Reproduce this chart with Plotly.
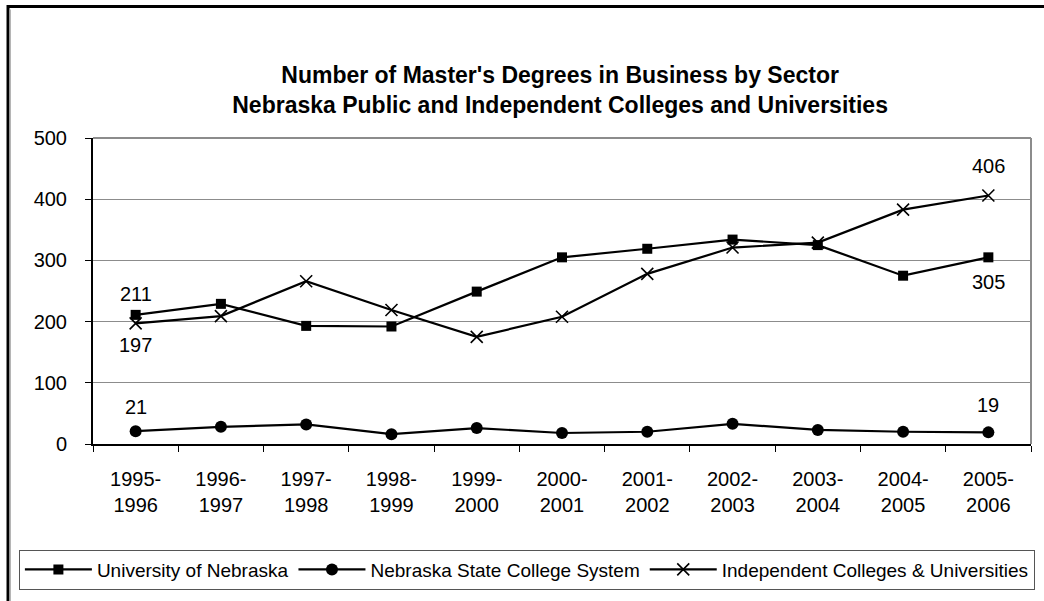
import plotly.graph_objects as go

years = ["1995-<br>1996", "1996-<br>1997", "1997-<br>1998", "1998-<br>1999", "1999-<br>2000",
         "2000-<br>2001", "2001-<br>2002", "2002-<br>2003", "2003-<br>2004", "2004-<br>2005",
         "2005-<br>2006"]
univ_nebraska = [211, 229, 193, 192, 249, 305, 319, 334, 325, 275, 305]
state_college = [21, 28, 32, 16, 26, 18, 20, 33, 23, 20, 19]
independent = [197, 209, 266, 219, 175, 208, 278, 321, 329, 383, 406]

FONT = "Liberation Sans, Arial, sans-serif"

fig = go.Figure()
fig.add_trace(go.Scatter(
    x=years, y=univ_nebraska, mode="lines+markers", name="University of Nebraska",
    line=dict(color="black", width=2.2),
    marker=dict(symbol="square", size=10, color="black")))
fig.add_trace(go.Scatter(
    x=years, y=state_college, mode="lines+markers", name="Nebraska State College System",
    line=dict(color="black", width=2.2),
    marker=dict(symbol="circle", size=12, color="black")))
fig.add_trace(go.Scatter(
    x=years, y=independent, mode="lines+markers", name="Independent Colleges & Universities",
    line=dict(color="black", width=2.2),
    marker=dict(symbol="x-thin-open", size=12, color="black", line=dict(color="black", width=1.6))))

# data labels (first and last values)
labels = [
    (years[0], univ_nebraska[0], 21),
    (years[0], independent[0], -22),
    (years[0], state_college[0], 24),
    (years[-1], independent[-1], 30),
    (years[-1], univ_nebraska[-1], -25),
    (years[-1], state_college[-1], 27),
]
annotations = []
for xv, yv, shift in labels:
    annotations.append(dict(x=xv, y=yv, xref="x", yref="y", text=str(yv), showarrow=False,
                            yshift=shift, font=dict(family=FONT, size=20, color="black")))

fig.update_layout(
    width=1044, height=601,
    margin=dict(l=93, r=13, t=138, b=157),
    paper_bgcolor="white", plot_bgcolor="white",
    title=dict(text="<b>Number of Master's Degrees in Business by Sector<br>"
                    "Nebraska Public and Independent Colleges and Universities</b>",
               x=0.5365, xanchor="center", y=0.862, yanchor="middle",
               font=dict(family=FONT, size=23, color="black")),
    font=dict(family=FONT, size=20, color="black"),
    showlegend=True,
    legend=dict(orientation="h", x=-0.079, xanchor="left", y=-0.345, yanchor="top",
                bgcolor="white", bordercolor="#555555", borderwidth=1,
                font=dict(family=FONT, size=19, color="black"),
                itemwidth=67, tracegroupgap=0),
    annotations=annotations,
    xaxis=dict(type="category", range=[-0.5, 10.5], tickson="boundaries",
               ticks="outside", ticklen=6, tickcolor="black", tickwidth=1,
               ticklabelstandoff=16,
               showline=True, linecolor="black", linewidth=2, showgrid=False,
               tickfont=dict(family=FONT, size=20, color="black"), fixedrange=True),
    yaxis=dict(range=[0, 500], tickvals=[0, 100, 200, 300, 400, 500],
               ticks="outside", ticklen=6, tickcolor="black", tickwidth=1,
               ticklabelstandoff=14,
               showline=True, linecolor="black", linewidth=2,
               showgrid=True, gridcolor="#8c8c8c", gridwidth=1, zeroline=False,
               tickfont=dict(family=FONT, size=20, color="black"), fixedrange=True),
    shapes=[
        # plot area top/right border (gray)
        dict(type="line", xref="paper", yref="paper", x0=0, x1=1, y0=1, y1=1,
             line=dict(color="#8c8c8c", width=2)),
        dict(type="line", xref="paper", yref="paper", x0=1, x1=1, y0=0, y1=1,
             line=dict(color="#8c8c8c", width=2)),
        # outer chart frame
        dict(type="rect", xref="paper", yref="paper", x0=-0.0906, x1=1.2, y0=-0.75, y1=1.43,
             line=dict(color="black", width=3), layer="below"),
        dict(type="line", xref="paper", yref="paper", x0=-0.0885, x1=-0.0885, y0=-0.75, y1=1.42,
             line=dict(color="#9a9a9a", width=1.5)),
    ],
)

fig.write_html("out.html", config={"displayModeBar": False},
               post_script="document.body.style.margin='0';document.body.style.overflow='hidden';")
